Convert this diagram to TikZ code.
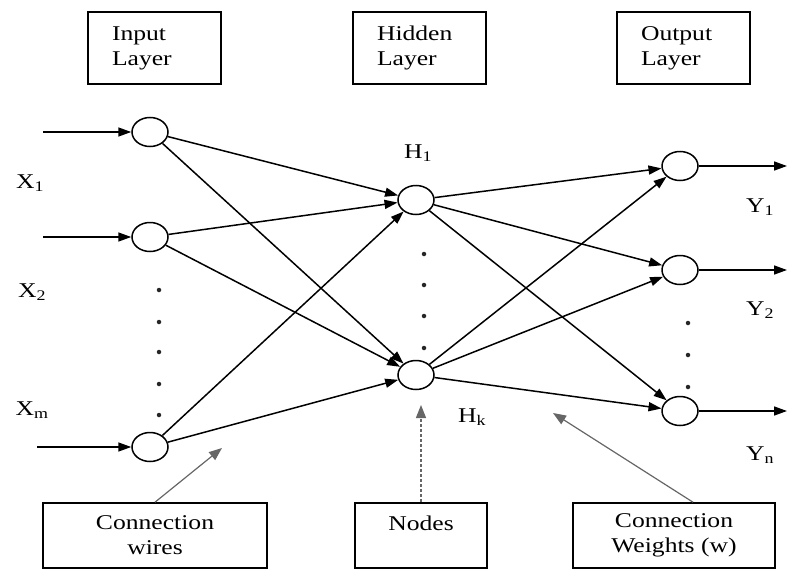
\documentclass[tikz,border=0pt]{standalone}
\usepackage{fontspec}
\setmainfont{Liberation Serif}[FakeStretch=1.22]
\usetikzlibrary{shapes.geometric,arrows.meta}
\begin{document}
\begin{tikzpicture}[x=1pt,y=-1pt,
  neuron/.style={draw,ellipse,minimum width=36pt,minimum height=29pt,inner sep=0pt,line width=1.5pt},
  wire/.style={line width=1.5pt,-{Triangle[length=13pt,width=9pt]}},
  layerbox/.style={draw,line width=1.6pt,minimum height=72pt,text width=85pt,inner xsep=24pt,align=left,font=\fontsize{21}{25}\selectfont},
  notebox/.style={draw,line width=1.6pt,minimum height=65pt,inner sep=0pt,align=center,font=\fontsize{21}{25}\selectfont},
  pointer/.style={draw=black!60,line width=1.2pt,-{Triangle[length=13pt,width=10pt]}},
  lab/.style={font=\fontsize{21}{25}\selectfont,inner sep=0pt},
  dotm/.style={circle,fill=black!85,inner sep=0pt,minimum size=4.5pt}
]
\useasboundingbox (0,0) rectangle (787,570);

% layer boxes
\node[layerbox] (inbox) at (154.5,48) {Input\\Layer};
\node[layerbox] (hidbox) at (419.5,48) {Hidden\\Layer};
\node[layerbox] (outbox) at (683.5,48) {Output\\Layer};

% neurons
\node[neuron] (I1) at (150,132) {};
\node[neuron] (I2) at (150,237) {};
\node[neuron] (Im) at (150,447) {};
\node[neuron] (H1) at (416,200) {};
\node[neuron] (Hk) at (416,375) {};
\node[neuron] (O1) at (680,166) {};
\node[neuron] (O2) at (680,270) {};
\node[neuron] (On) at (680,411) {};

% input/output free ends
\coordinate (x1s) at (43,132);
\coordinate (x2s) at (43,237);
\coordinate (xms) at (37,447);
\coordinate (y1e) at (787,166);
\coordinate (y2e) at (787,270);
\coordinate (yne) at (787,411);

\draw[wire] (x1s) -- (I1);
\draw[wire] (x2s) -- (I2);
\draw[wire] (xms) -- (Im);
\draw[wire] (O1) -- (y1e);
\draw[wire] (O2) -- (y2e);
\draw[wire] (On) -- (yne);

% connections
\foreach \a in {I1,I2,Im}{
  \draw[wire] (\a) -- (H1);
  \draw[wire] (\a) -- (Hk);
}
\foreach \b in {O1,O2,On}{
  \draw[wire] (H1) -- (\b);
  \draw[wire] (Hk) -- (\b);
}

% dots
\foreach \y in {290,322,352,384,415} \node[dotm] at (159,\y) {};
\foreach \y in {254,285,316,348} \node[dotm] at (424,\y) {};
\foreach \y in {323,355,387} \node[dotm] at (688,\y) {};

% labels
\node[lab] (lx1) at (30,183) {X\textsubscript{1}};
\node[lab] (lx2) at (32,292) {X\textsubscript{2}};
\node[lab] (lxm) at (32,410) {X\textsubscript{m}};
\node[lab] (lh1) at (418,153) {H\textsubscript{1}};
\node[lab] (lhk) at (472,417) {H\textsubscript{k}};
\node[lab] (ly1) at (760,207) {Y\textsubscript{1}};
\node[lab] (ly2) at (760,310) {Y\textsubscript{2}};
\node[lab] (lyn) at (760,455) {Y\textsubscript{n}};

% bottom boxes
\node[notebox,minimum width=224pt] (cwbox) at (155,535.5) {Connection\\wires};
\node[notebox,minimum width=132pt] (ndbox) at (421,535.5) {Nodes\\\mbox{}};
\node[notebox,minimum width=202pt] (wbox) at (674,535.5) {Connection\\Weights (w)};

\coordinate (cwtip) at (222,448);
\coordinate (ndtip) at (421,405);
\coordinate (wtip) at (553,413);
\draw[pointer] (cwbox.north) -- (cwtip);
\draw[pointer,dash pattern=on 3pt off 2pt] (ndbox.north) -- (ndtip);
\draw[pointer] ([xshift=19pt]wbox.north) -- (wtip);
\end{tikzpicture}
\end{document}
